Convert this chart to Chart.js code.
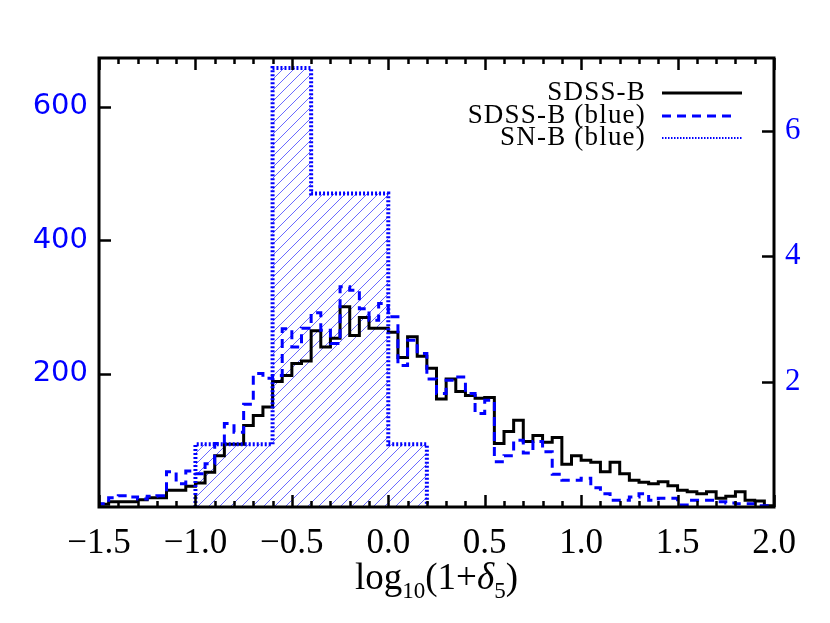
<!DOCTYPE html>
<html>
<head>
<meta charset="utf-8">
<script src="https://cdn.jsdelivr.net/npm/chart.js@4.4.1/dist/chart.umd.min.js"></script>
<style>
  html, body { margin: 0; padding: 0; background: #fff; }
</style>
</head>
<body>
<canvas id="histChart" width="830" height="623"></canvas>
<script>
// SDSS histograms: 0.05 wide bins starting at -1.5
const sdssBinStart = -1.5;
const sdssBinWidth = 0.05;
const sdssAll = [
    4, 8, 8, 8, 11, 14, 14, 25, 25, 31,
    36, 52, 77, 94, 94, 122, 137, 150, 188, 197,
    215, 219, 264, 240, 253, 300, 257, 284, 268, 268,
    262, 224, 255, 226, 208, 162, 192, 173, 167, 163,
    164, 95, 113, 130, 98, 107, 97, 104, 64, 77,
    70, 67, 53, 67, 50, 40, 37, 35, 38, 32,
    25, 23, 20, 23, 13, 16, 23, 10, 9, 2
];
const sdssBlue = [
    5, 14, 17, 15, 12, 16, 17, 53, 35, 54,
    50, 65, 95, 125, 112, 154, 200, 193, 197, 267,
    240, 268, 291, 265, 245, 330, 325, 297, 280, 305,
    285, 212, 250, 230, 192, 170, 190, 195, 170, 140,
    160, 68, 77, 100, 81, 98, 83, 49, 40, 40,
    43, 29, 20, 10, 10, 15, 20, 10, 13, 13,
    3, 10, 10, 10, 8, 6, 5, 5, 2, 2
];

// SN histogram: 0.2 wide bins starting at -1.0 (right axis)
const snBinStart = -1.0;
const snBinWidth = 0.2;
const snBlue = [1, 1, 7, 5, 5, 1];

const xMin = -1.5, xMax = 2.0;
const leftTicks = [200, 400, 600];
const rightTicks = [2, 4, 6];
const legendLabels = ['SDSS-B', 'SDSS-B (blue)', 'SN-B (blue)'];

const BLUE = '#0000ff';

// turn bin values into a closed step outline
function stepPoints(start, width, values) {
    const pts = [{ x: start, y: 0 }];
    values.forEach((v, i) => pts.push({ x: start + i * width, y: v }));
    const end = start + values.length * width;
    pts.push({ x: end, y: values[values.length - 1] });
    pts.push({ x: end, y: 0 });
    return pts;
}

// crisp 1px "/" hatching
function hatchPattern() {
    const s = 11;
    const c = document.createElement('canvas');
    c.width = s; c.height = s;
    const g = c.getContext('2d');
    g.fillStyle = '#6a6aff';
    for (let i = 0; i < s; i++) g.fillRect(i, s - 1 - i, 1, 1);
    return g.createPattern(c, 'repeat');
}

// frame, inward ticks, x title with subscripts and the legend
const decorPlugin = {
    id: 'decor',
    afterDraw(chart) {
        const { ctx, chartArea: a } = chart;
        const xs = chart.scales.x, yl = chart.scales.y, yr = chart.scales.y2;
        ctx.save();
        ctx.strokeStyle = '#000';

        ctx.lineWidth = 2.5;
        ctx.beginPath();
        for (let k = 0; k <= 35; k++) {
            const v = xMin + k * 0.1;
            const px = Math.round(xs.getPixelForValue(v)) + 0.5;
            const len = k % 5 === 0 ? 12 : 6;
            ctx.moveTo(px, a.bottom); ctx.lineTo(px, a.bottom - len);
            ctx.moveTo(px, a.top); ctx.lineTo(px, a.top + len);
        }
        leftTicks.forEach(v => {
            const py = Math.round(yl.getPixelForValue(v)) + 0.5;
            ctx.moveTo(a.left, py); ctx.lineTo(a.left + 12, py);
        });
        rightTicks.forEach(v => {
            const py = Math.round(yr.getPixelForValue(v)) + 0.5;
            ctx.moveTo(a.right, py); ctx.lineTo(a.right - 12, py);
        });
        ctx.stroke();

        ctx.lineWidth = 3;
        ctx.strokeRect(a.left, a.top, a.right - a.left, a.bottom - a.top);

        // x title: log10(1+δ5)
        const parts = [
            { t: 'log', f: '37px "Liberation Serif"', dy: 0 },
            { t: '10', f: '23px "Liberation Serif"', dy: 9 },
            { t: '(1+', f: '37px "Liberation Serif"', dy: 0 },
            { t: 'δ', f: 'italic 37px "Liberation Serif"', dy: 0 },
            { t: '5', f: '23px "Liberation Serif"', dy: 9 },
            { t: ')', f: '37px "Liberation Serif"', dy: 0 }
        ];
        let total = 0;
        parts.forEach(p => { ctx.font = p.f; p.w = ctx.measureText(p.t).width; total += p.w; });
        let tx = (a.left + a.right) / 2 - total / 2;
        const base = 589;
        ctx.fillStyle = '#000';
        ctx.textAlign = 'left';
        ctx.textBaseline = 'alphabetic';
        parts.forEach(p => {
            ctx.font = p.f;
            ctx.fillText(p.t, tx, base + p.dy);
            tx += p.w;
        });

        // legend
        const rows = [
            { y: 93, color: '#000', dash: [], width: 3, x2: 742 },
            { y: 116, color: BLUE, dash: [9, 6], width: 3, x2: 737 },
            { y: 138, color: BLUE, dash: [1.5, 1.5], width: 2, x2: 742 }
        ];
        ctx.font = '27px "Liberation Serif"';
        ctx.letterSpacing = '1.2px';
        ctx.textAlign = 'right';
        ctx.textBaseline = 'middle';
        rows.forEach((r, i) => {
            ctx.fillStyle = '#000';
            ctx.fillText(legendLabels[i], 646, r.y);
            ctx.strokeStyle = r.color;
            ctx.lineWidth = r.width;
            ctx.setLineDash(r.dash);
            ctx.beginPath();
            ctx.moveTo(662, r.y); ctx.lineTo(r.x2, r.y);
            ctx.stroke();
        });
        ctx.restore();
    }
};

const ctx = document.getElementById('histChart').getContext('2d');
new Chart(ctx, {
    type: 'line',
    data: {
        datasets: [
            {
                label: legendLabels[0],
                data: stepPoints(sdssBinStart, sdssBinWidth, sdssAll),
                borderColor: '#000',
                borderWidth: 3,
                stepped: true,
                pointRadius: 0,
                fill: false,
                yAxisID: 'y',
                order: 3
            },
            {
                label: legendLabels[1],
                data: stepPoints(sdssBinStart, sdssBinWidth, sdssBlue),
                borderColor: BLUE,
                borderWidth: 3,
                borderDash: [9, 6],
                stepped: true,
                pointRadius: 0,
                fill: false,
                yAxisID: 'y',
                order: 2
            },
            {
                label: legendLabels[2],
                data: stepPoints(snBinStart, snBinWidth, snBlue),
                borderColor: BLUE,
                borderWidth: 4,
                borderDash: [2, 2],
                backgroundColor: hatchPattern(),
                stepped: true,
                pointRadius: 0,
                fill: 'origin',
                yAxisID: 'y2',
                order: 1
            }
        ]
    },
    options: {
        responsive: false,
        animation: false,
        devicePixelRatio: 1,
        layout: { padding: { top: 58, left: 0, right: 0, bottom: 0 } },
        plugins: {
            legend: { display: false },
            tooltip: { enabled: false },
            filler: { drawTime: 'beforeDatasetsDraw' }
        },
        scales: {
            x: {
                type: 'linear',
                min: xMin,
                max: xMax,
                grid: { display: false, drawTicks: false },
                border: { display: false },
                afterFit: s => { s.height = 116; },
                ticks: {
                    stepSize: 0.5,
                    autoSkip: false,
                    maxRotation: 0,
                    padding: 16,
                    color: '#000',
                    font: { family: 'Liberation Serif', size: 35 },
                    callback: v => v.toFixed(1).replace('-', '\u2212')
                }
            },
            y: {
                position: 'left',
                min: 0,
                max: 673,
                grid: { display: false, drawTicks: false },
                border: { display: false },
                afterFit: s => { s.width = 99; },
                afterBuildTicks: s => { s.ticks = leftTicks.map(v => ({ value: v })); },
                ticks: {
                    padding: 11,
                    color: BLUE,
                    font: { family: 'DejaVu Sans', size: 29 }
                }
            },
            y2: {
                position: 'right',
                min: 0,
                max: 7.16,
                grid: { display: false, drawTicks: false },
                border: { display: false },
                afterFit: s => { s.width = 56; },
                afterBuildTicks: s => { s.ticks = rightTicks.map(v => ({ value: v })); },
                ticks: {
                    padding: 11,
                    color: BLUE,
                    font: { family: 'Liberation Serif', size: 31 }
                }
            }
        }
    },
    plugins: [decorPlugin]
});
</script>
</body>
</html>
